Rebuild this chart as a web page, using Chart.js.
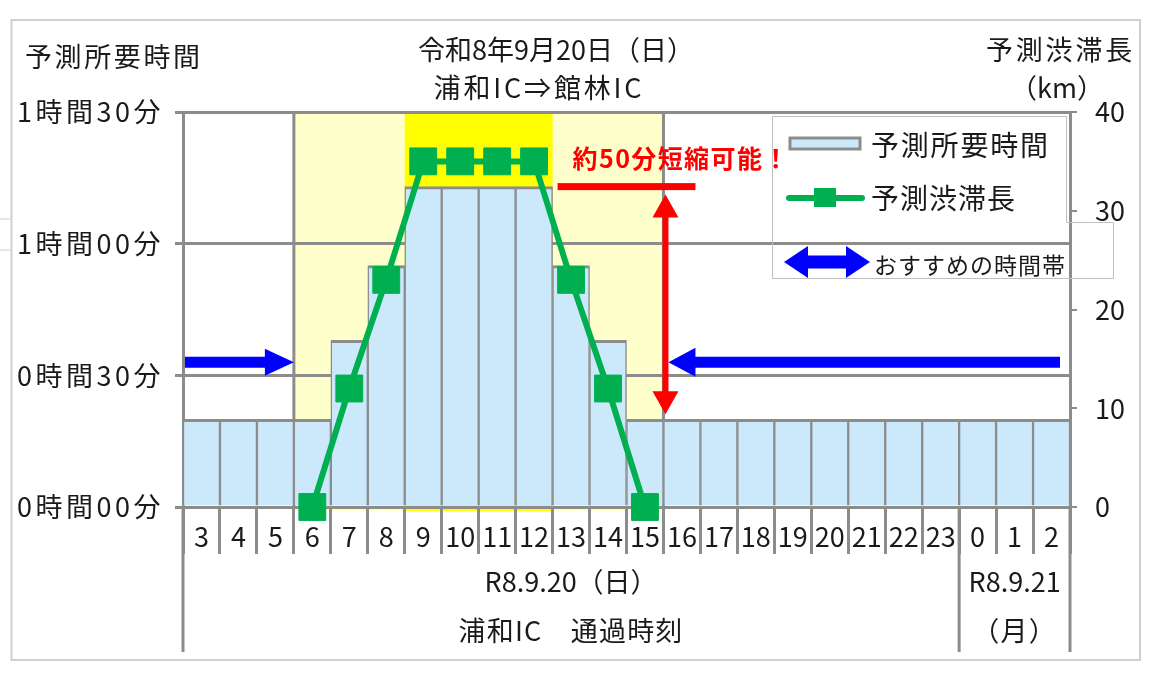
<!DOCTYPE html>
<html lang="ja">
<head>
<meta charset="utf-8">
<title>予測所要時間・予測渋滞長</title>
<script src="https://cdn.jsdelivr.net/npm/chart.js@4.4.1/dist/chart.umd.min.js"></script>
<style>
  html, body { margin: 0; padding: 0; background: #fff; }
  #wrap { position: relative; width: 1157px; height: 675px; }
</style>
</head>
<body>
<div id="wrap"><canvas id="chart"></canvas></div>
<script>
// 浦和IC 通過時刻（時）
const hours = ['3', '4', '5', '6', '7', '8', '9', '10', '11', '12', '13', '14', '15',
  '16', '17', '18', '19', '20', '21', '22', '23', '0', '1', '2'];
// 予測所要時間（分）
const travelMinutes = [20, 20, 20, 20, 38, 55, 73, 73, 73, 73, 55, 38, 20,
  20, 20, 20, 20, 20, 20, 20, 20, 20, 20, 20];
// 予測渋滞長（km）
const jamKm = [null, null, null, 0, 12, 23, 35, 35, 35, 35, 23, 12, 0,
  null, null, null, null, null, null, null, null, null, null, null];
// 渋滞が予測される時間帯 / ピーク
const congestedHours = ['6', '7', '8', '9', '10', '11', '12', '13', '14', '15'];
const peakHours = ['9', '10', '11', '12'];
// おすすめの時間帯
const recommendBefore = ['3', '4', '5'];
const recommendAfter = ['16', '17', '18', '19', '20', '21', '22', '23', '0', '1', '2'];
// 軸の目盛り
const minuteTicks = [0, 30, 60, 90];
const kmTicks = [0, 10, 20, 30, 40];
// 日付の区切り
const dateGroups = [
  { lines: ['R8.9.20（日）', '浦和IC　通過時刻'], from: '3', to: '23' },
  { lines: ['R8.9.21', '（月）'], from: '0', to: '2' }
];

const FONT = "'Noto Sans CJK JP', 'Noto Sans', sans-serif";
const TEXT = '#1a1a1a';
const GRID = '#8c8c8c';

function fmtMinutes(v) {
  return Math.floor(v / 60) + '時間' + String(v % 60).padStart(2, '0') + '分';
}

function edges(chart, h) {
  const x = chart.scales.x;
  const half = (x.getPixelForValue(1) - x.getPixelForValue(0)) / 2;
  const c = x.getPixelForValue(hours.indexOf(h));
  return { left: c - half, right: c + half };
}

function text(ctx, s, x, y, spacing) {
  ctx.letterSpacing = (spacing || 0) + 'px';
  ctx.fillText(s, x, y);
  ctx.letterSpacing = '0px';
}

function hArrow(ctx, xTail, xTip, y, shaft, headLen, headH) {
  const d = Math.sign(xTip - xTail);
  const xb = xTip - d * headLen;
  ctx.beginPath();
  ctx.moveTo(xTail, y - shaft / 2);
  ctx.lineTo(xb, y - shaft / 2);
  ctx.lineTo(xb, y - headH / 2);
  ctx.lineTo(xTip, y);
  ctx.lineTo(xb, y + headH / 2);
  ctx.lineTo(xb, y + shaft / 2);
  ctx.lineTo(xTail, y + shaft / 2);
  ctx.closePath();
  ctx.fill();
}

function hDoubleArrow(ctx, x1, x2, y, shaft, headLen, headH) {
  ctx.beginPath();
  ctx.moveTo(x1, y);
  ctx.lineTo(x1 + headLen, y - headH / 2);
  ctx.lineTo(x1 + headLen, y - shaft / 2);
  ctx.lineTo(x2 - headLen, y - shaft / 2);
  ctx.lineTo(x2 - headLen, y - headH / 2);
  ctx.lineTo(x2, y);
  ctx.lineTo(x2 - headLen, y + headH / 2);
  ctx.lineTo(x2 - headLen, y + shaft / 2);
  ctx.lineTo(x1 + headLen, y + shaft / 2);
  ctx.lineTo(x1 + headLen, y + headH / 2);
  ctx.closePath();
  ctx.fill();
}

function vDoubleArrow(ctx, x, y1, y2, shaft, headLen, headW) {
  ctx.beginPath();
  ctx.moveTo(x, y1);
  ctx.lineTo(x + headW / 2, y1 + headLen);
  ctx.lineTo(x + shaft / 2, y1 + headLen);
  ctx.lineTo(x + shaft / 2, y2 - headLen);
  ctx.lineTo(x + headW / 2, y2 - headLen);
  ctx.lineTo(x, y2);
  ctx.lineTo(x - headW / 2, y2 - headLen);
  ctx.lineTo(x - shaft / 2, y2 - headLen);
  ctx.lineTo(x - shaft / 2, y1 + headLen);
  ctx.lineTo(x - headW / 2, y1 + headLen);
  ctx.closePath();
  ctx.fill();
}

// 渋滞時間帯の黄色い背景（グリッドより下）
const bandPlugin = {
  id: 'band',
  beforeDraw(chart) {
    const { ctx, chartArea: a } = chart;
    ctx.save();
    congestedHours.forEach(h => {
      const e = edges(chart, h);
      ctx.fillStyle = peakHours.includes(h) ? '#ffff00' : '#ffffcc';
      ctx.fillRect(e.left, a.top, e.right - e.left + 0.5, a.bottom - a.top + 4);
    });
    ctx.strokeStyle = GRID;
    ctx.lineWidth = 3;
    const xl = edges(chart, congestedHours[0]).left;
    const xr = edges(chart, congestedHours[congestedHours.length - 1]).right;
    [xl, xr].forEach(xx => {
      ctx.beginPath();
      ctx.moveTo(xx, a.top);
      ctx.lineTo(xx, a.bottom);
      ctx.stroke();
    });
    ctx.restore();
  }
};

// 注記・凡例・見出し
const notePlugin = {
  id: 'notes',
  afterDraw(chart) {
    const { ctx, chartArea: a, scales: { y } } = chart;
    ctx.save();

    // 外枠
    ctx.strokeStyle = '#cfcfcf';
    ctx.lineWidth = 2;
    ctx.strokeRect(11.5, 20, 1128.5, 640);
    ctx.lineWidth = 1;
    ctx.beginPath();
    ctx.moveTo(0, 219); ctx.lineTo(11, 219);
    ctx.moveTo(0, 250); ctx.lineTo(11, 250);
    ctx.stroke();

    // 軸線の延長（日付ラベル領域）
    ctx.strokeStyle = GRID;
    ctx.lineWidth = 3;
    const sep = edges(chart, dateGroups[1].from).left;
    [a.left, sep, a.right].forEach(xx => {
      ctx.beginPath();
      ctx.moveTo(xx, a.bottom);
      ctx.lineTo(xx, 652);
      ctx.stroke();
    });

    ctx.fillStyle = TEXT;
    ctx.textBaseline = 'middle';

    // 左軸の目盛りラベル
    ctx.font = '27px ' + FONT;
    ctx.textAlign = 'right';
    minuteTicks.forEach(v => text(ctx, fmtMinutes(v), 164, y.getPixelForValue(v), 3.5));

    // 日付ラベル
    ctx.textAlign = 'center';
    dateGroups.forEach(g => {
      const cx = (edges(chart, g.from).left + edges(chart, g.to).right) / 2;
      text(ctx, g.lines[0], cx, 582, 0);
      text(ctx, g.lines[1], cx, 631, 1.2);
    });

    // 見出し
    text(ctx, '令和8年9月20日（日）', 556, 50, 0);
    text(ctx, '浦和IC⇒館林IC', 539, 88, 2.8);
    ctx.textAlign = 'left';
    text(ctx, '予測所要時間', 25, 57, 2.6);
    ctx.textAlign = 'right';
    text(ctx, '予測渋滞長', 1135, 50, 2.8);
    ctx.textAlign = 'center';
    text(ctx, '（km）', 1057, 88, 0);

    // おすすめの時間帯（青矢印）
    const yRec = y.getPixelForValue(33);
    ctx.fillStyle = '#0000ff';
    hArrow(ctx, edges(chart, recommendBefore[0]).left + 2,
      edges(chart, recommendBefore[recommendBefore.length - 1]).right, yRec, 11, 29, 27);
    hArrow(ctx, edges(chart, recommendAfter[recommendAfter.length - 1]).right - 10,
      edges(chart, recommendAfter[0]).left + 5, yRec, 11, 27, 29);

    // 約50分短縮（赤）
    const yPeak = y.getPixelForValue(Math.max(...travelMinutes));
    const yBase = y.getPixelForValue(Math.min(...travelMinutes));
    const xr = edges(chart, congestedHours[congestedHours.length - 1]).right;
    const xs = edges(chart, peakHours[peakHours.length - 1]).right + 5;
    ctx.fillStyle = '#ff0000';
    ctx.fillRect(xs, yPeak - 3.5, xr + 32 - xs, 7);
    vDoubleArrow(ctx, xr + 2, yPeak + 8, yBase - 5, 6, 23, 26);
    ctx.font = 'bold 25px ' + FONT;
    ctx.textAlign = 'left';
    text(ctx, '約50分短縮可能！', edges(chart, '13').left + 20, yPeak - 28, 1.4);

    // 凡例
    ctx.strokeStyle = '#bfbfbf';
    ctx.lineWidth = 1;
    ctx.beginPath();
    ctx.moveTo(772.5, 116.5);
    ctx.lineTo(1066.5, 116.5);
    ctx.lineTo(1066.5, 222.5);
    ctx.lineTo(1113.5, 222.5);
    ctx.lineTo(1113.5, 278.5);
    ctx.lineTo(772.5, 278.5);
    ctx.closePath();
    ctx.stroke();

    ctx.fillStyle = '#cce9fb';
    ctx.fillRect(790, 138, 70, 11);
    ctx.strokeStyle = GRID;
    ctx.lineWidth = 3;
    ctx.strokeRect(790, 138, 70, 11);

    ctx.strokeStyle = '#00b050';
    ctx.lineWidth = 6;
    ctx.lineCap = 'round';
    ctx.beginPath();
    ctx.moveTo(789, 198);
    ctx.lineTo(862, 198);
    ctx.stroke();
    ctx.fillStyle = '#00b050';
    ctx.fillRect(814, 188, 22, 19);

    ctx.fillStyle = '#0000ff';
    hDoubleArrow(ctx, 784, 870, 262, 13, 24, 32);

    ctx.fillStyle = TEXT;
    ctx.textAlign = 'left';
    ctx.font = '28px ' + FONT;
    text(ctx, chart.data.datasets[1].label, 871, 145, 1.8);
    text(ctx, chart.data.datasets[0].label, 871, 198, 1.0);
    ctx.font = '23px ' + FONT;
    text(ctx, 'おすすめの時間帯', 874, 265, 1.0);

    ctx.restore();
  }
};

const ctx = document.getElementById('chart').getContext('2d');
new Chart(ctx, {
  data: {
    labels: hours,
    datasets: [
      {
        type: 'line',
        label: '予測渋滞長',
        data: jamKm,
        yAxisID: 'y1',
        borderColor: '#00b050',
        borderWidth: 6,
        pointStyle: 'rect',
        pointRadius: 19,
        pointBackgroundColor: '#00b050',
        pointBorderColor: '#00b050',
        pointBorderWidth: 1,
        tension: 0,
        clip: false,
        order: 0
      },
      {
        type: 'bar',
        label: '予測所要時間',
        data: travelMinutes,
        yAxisID: 'y',
        backgroundColor: '#cce9fb',
        borderColor: GRID,
        borderWidth: { top: 3, left: 1.5, right: 1.5, bottom: 0 },
        borderSkipped: false,
        barPercentage: 1,
        categoryPercentage: 1,
        order: 1
      }
    ]
  },
  options: {
    responsive: true,
    maintainAspectRatio: false,
    animation: false,
    events: [],
    layout: { padding: { top: 112, left: 0, right: 0, bottom: 0 } },
    plugins: {
      legend: { display: false },
      tooltip: { enabled: false },
      title: { display: false }
    },
    scales: {
      x: {
        offset: true,
        grid: { offset: true, drawOnChartArea: false, drawTicks: true, tickLength: 47, color: GRID, lineWidth: 3 },
        border: { display: true, color: GRID, width: 3 },
        ticks: { font: { family: FONT, size: 27 }, color: TEXT, padding: -33, maxRotation: 0, autoSkip: false },
        afterFit(s) { s.height = 168; }
      },
      y: {
        position: 'left',
        min: minuteTicks[0],
        max: minuteTicks[minuteTicks.length - 1],
        afterBuildTicks(s) { s.ticks = minuteTicks.map(v => ({ value: v })); },
        ticks: { display: false },
        grid: { color: GRID, lineWidth: 3, tickLength: 8, drawTicks: true },
        border: { display: true, color: GRID, width: 3 },
        afterFit(s) { s.width = 183; }
      },
      y1: {
        position: 'right',
        min: kmTicks[0],
        max: kmTicks[kmTicks.length - 1],
        afterBuildTicks(s) { s.ticks = kmTicks.map(v => ({ value: v })); },
        ticks: { font: { family: FONT, size: 27 }, color: TEXT, padding: 18 },
        grid: { drawOnChartArea: false, color: GRID, lineWidth: 2, tickLength: 7 },
        border: { display: true, color: GRID, width: 3 },
        afterFit(s) { s.width = 87; }
      }
    }
  },
  plugins: [bandPlugin, notePlugin]
});
</script>
</body>
</html>
